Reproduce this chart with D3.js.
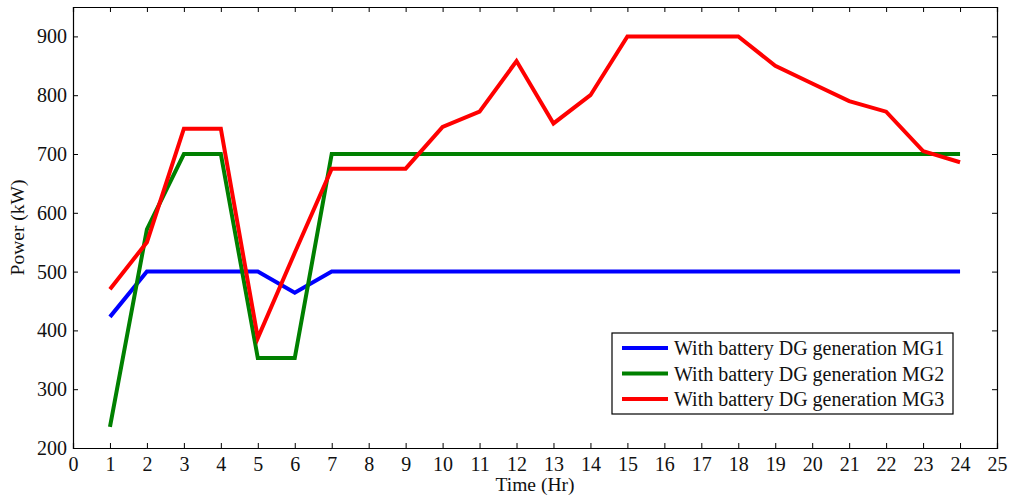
<!DOCTYPE html>
<html>
<head>
<meta charset="utf-8">
<script src="https://cdn.jsdelivr.net/npm/d3@7"></script>
<style>
  html, body { margin: 0; padding: 0; background: #fff; }
  svg text { font-family: "Liberation Serif", "Times New Roman", serif; fill: #111; }
</style>
</head>
<body>
<svg id="chart" width="1010" height="501"></svg>
<script>
// Hourly DG generation (kW) for each microgrid with battery storage
const hours = d3.range(1, 25);
const mg1 = [423, 500, 500, 500, 500, 464, 500, 500, 500, 500, 500, 500,
             500, 500, 500, 500, 500, 500, 500, 500, 500, 500, 500, 500];
const mg2 = [236, 572, 700, 700, 353, 353, 700, 700, 700, 700, 700, 700,
             700, 700, 700, 700, 700, 700, 700, 700, 700, 700, 700, 700];
const mg3 = [470, 550, 743, 743, 387, 532, 675, 675, 675, 746, 772, 858,
             752, 800, 900, 900, 900, 900, 850, 820, 790, 772, 705, 686];
const seriesNames = ["With battery DG generation MG1",
                     "With battery DG generation MG2",
                     "With battery DG generation MG3"];
const seriesColors = ["#0000ff", "#008000", "#ff0000"];
const xTicks = d3.range(0, 26);
const yTicks = [200, 300, 400, 500, 600, 700, 800, 900];

const svg = d3.select("#chart");
const W = 1010, H = 501;
const margin = { left: 73, top: 7, right: W - 997, bottom: H - 448 };

const x = d3.scaleLinear().domain([0, 25]).range([margin.left, W - margin.right]);
const y = d3.scaleLinear().domain([200, 950]).range([H - margin.bottom, margin.top]);

const tickLen = 5;
const fontSize = 20;

// Axes: ticks point inward on all four sides
const bottomAxis = d3.axisBottom(x).tickValues(xTicks).tickSize(-tickLen).tickPadding(9).tickFormat(d3.format("d"));
const topAxis = d3.axisTop(x).tickValues(xTicks).tickSize(-tickLen).tickFormat("");
const leftAxis = d3.axisLeft(y).tickValues(yTicks).tickSize(-tickLen).tickPadding(6).tickFormat(d3.format("d"));
const rightAxis = d3.axisRight(y).tickValues(yTicks).tickSize(-tickLen).tickFormat("");

function styleAxis(g) {
  g.select(".domain").attr("stroke", "#000").attr("stroke-width", 1.2);
  g.selectAll(".tick line").attr("stroke", "#000").attr("stroke-width", 1);
  g.selectAll(".tick text").attr("font-size", fontSize).attr("fill", "#111");
}

svg.append("g").attr("transform", `translate(0,${y(200)})`).call(bottomAxis).call(styleAxis);
svg.append("g").attr("transform", `translate(0,${y(950)})`).call(topAxis).call(styleAxis);
svg.append("g").attr("transform", `translate(${x(0)},0)`).call(leftAxis).call(styleAxis);
svg.append("g").attr("transform", `translate(${x(25)},0)`).call(rightAxis).call(styleAxis);

// Lines
const line = d3.line().x((d, i) => x(hours[i])).y(d => y(d));
[mg1, mg2, mg3].forEach((vals, k) => {
  svg.append("path")
    .datum(vals)
    .attr("d", line)
    .attr("fill", "none")
    .attr("stroke", seriesColors[k])
    .attr("stroke-width", 4)
    .attr("stroke-linejoin", "miter");
});

// Axis titles
svg.append("text")
  .attr("x", (x(0) + x(25)) / 2)
  .attr("y", 491)
  .attr("text-anchor", "middle")
  .attr("font-size", 19.5)
  .text("Time (Hr)");

svg.append("text")
  .attr("transform", `translate(24,${(y(200) + y(950)) / 2}) rotate(-90)`)
  .attr("text-anchor", "middle")
  .attr("font-size", 19.5)
  .text("Power (kW)");

// Legend
const lg = svg.append("g").attr("transform", "translate(612,333)");
lg.append("rect")
  .attr("width", 341).attr("height", 81)
  .attr("fill", "#fff").attr("stroke", "#000").attr("stroke-width", 1.2);
seriesNames.forEach((name, k) => {
  const cy = 15 + k * 25.5;
  lg.append("line")
    .attr("x1", 10).attr("x2", 56)
    .attr("y1", cy).attr("y2", cy)
    .attr("stroke", seriesColors[k]).attr("stroke-width", 4);
  lg.append("text")
    .attr("x", 62).attr("y", cy + 7)
    .attr("font-size", fontSize)
    .text(name);
});
</script>
</body>
</html>
